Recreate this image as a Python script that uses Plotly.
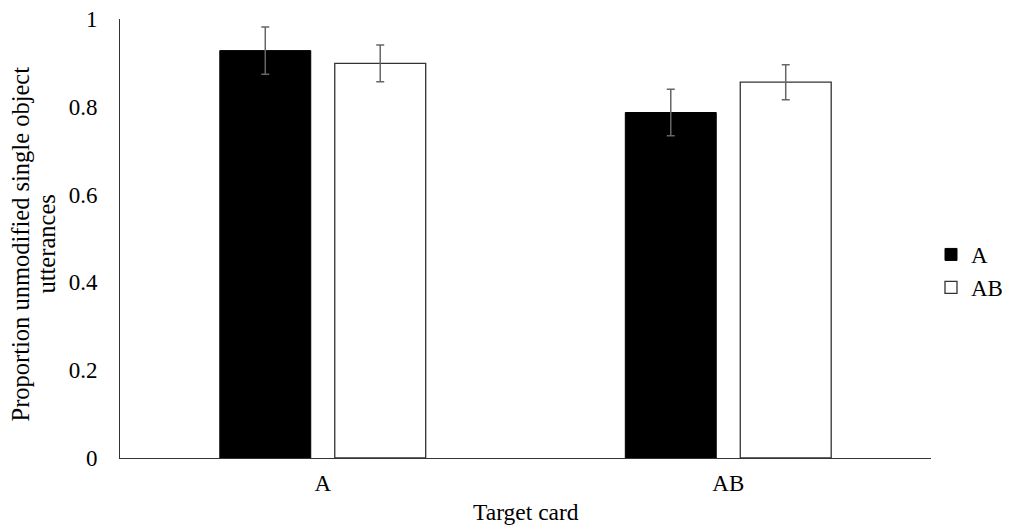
import plotly.graph_objects as go

categories = ["A", "AB"]
series_names = ["A", "AB"]
values_A = [0.928, 0.787]
values_AB = [0.899, 0.856]
err_A = [0.054, 0.053]
err_AB = [0.042, 0.040]
y_ticks = [0, 0.2, 0.4, 0.6, 0.8, 1]
y_ticklabels = ["0", "0.2", "0.4", "0.6", "0.8", "1"]
y_title_lines = ["Proportion unmodified single object", "utterances"]
x_title = "Target card"

font_family = "Liberation Serif, Times New Roman, serif"
fs = 23

fig = go.Figure()
fig.add_trace(go.Bar(
    x=categories, y=values_A, name=series_names[0],
    marker=dict(color="black", line=dict(color="black", width=1)),
    error_y=dict(type="data", array=err_A, color="#666666", thickness=1.5, width=4),
))
fig.add_trace(go.Bar(
    x=categories, y=values_AB, name=series_names[1],
    marker=dict(color="white", line=dict(color="#333333", width=1.3)),
    error_y=dict(type="data", array=err_AB, color="#666666", thickness=1.5, width=4),
))

fig.update_layout(
    width=1002, height=519,
    margin=dict(l=112, r=79, t=11, b=69, autoexpand=False),
    paper_bgcolor="white", plot_bgcolor="white",
    font=dict(family=font_family, size=fs, color="black"),
    barmode="group", bargap=0.433, bargroupgap=0.209,
    showlegend=True,
    legend=dict(x=1.0, y=0.426, xanchor="left", yanchor="middle",
                font=dict(family=font_family, size=fs), itemwidth=30, tracegroupgap=0,
                bgcolor="rgba(0,0,0,0)"),
    xaxis=dict(
        automargin=False,
        showline=True, linecolor="#333333", linewidth=1,
        ticks="", showgrid=False, ticklabelstandoff=4,
        tickfont=dict(family=font_family, size=fs),
    ),
    yaxis=dict(
        automargin=False,
        range=[0, 1], showline=True, linecolor="#333333", linewidth=1,
        tickvals=y_ticks, ticktext=y_ticklabels, ticks="",
        showgrid=False, zeroline=False, ticklabelstandoff=17,
        ticklabeloverflow="allow",
        tickfont=dict(family=font_family, size=fs),
    ),
    annotations=[
        dict(text=x_title, xref="paper", yref="paper", x=0.5, y=0,
             xshift=0, yshift=-54, showarrow=False, yanchor="middle",
             font=dict(family=font_family, size=23.5)),
        dict(text=y_title_lines[0],
             xref="paper", yref="paper", x=0, y=0.5, xshift=-100, yshift=-6,
             textangle=-90, showarrow=False, xanchor="center", yanchor="middle",
             font=dict(family=font_family, size=24.5)),
        dict(text=y_title_lines[1],
             xref="paper", yref="paper", x=0, y=0.5, xshift=-74, yshift=-6,
             textangle=-90, showarrow=False, xanchor="center", yanchor="middle",
             font=dict(family=font_family, size=24.5)),
    ],
)

fig.write_html("out.html")
